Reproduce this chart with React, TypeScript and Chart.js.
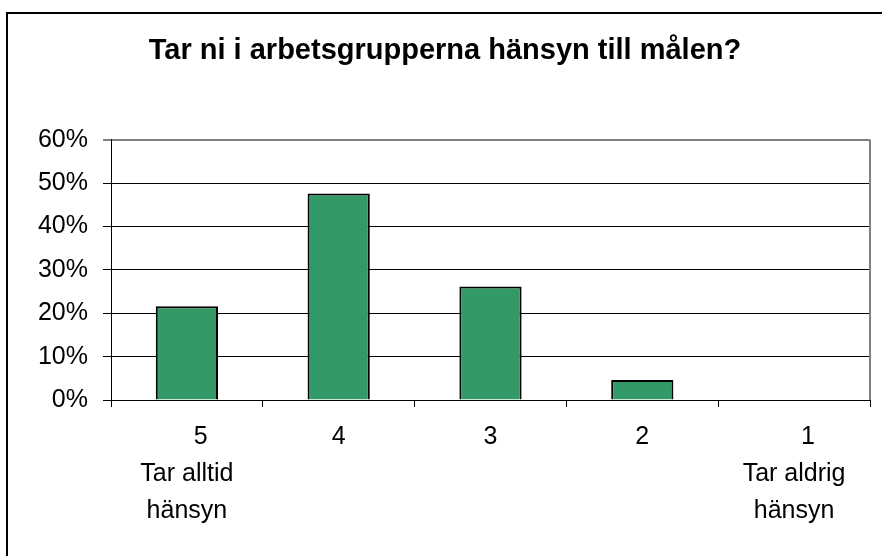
import React, { useEffect, useRef } from "react";
import { Chart, registerables } from "chart.js";

Chart.register(...registerables);

const TITLE = "Tar ni i arbetsgrupperna hänsyn till målen?";
const CATEGORIES: string[][] = [
  ["    5", "Tar alltid", "hänsyn"],
  ["4"],
  ["3"],
  ["2"],
  ["    1", "Tar aldrig", "hänsyn"],
];
const VALUES: number[] = [21.6, 47.6, 26.2, 4.6, 0];
const Y_MIN = 0;
const Y_MAX = 60;
const Y_STEP = 10;

const FONT = "'Liberation Sans', Arial, Helvetica, sans-serif";
const W = 882;
const H = 556;

const framePlugin = {
  id: "frame",
  beforeDraw(chart: any) {
    const ctx = chart.ctx;
    ctx.save();
    ctx.fillStyle = "#ffffff";
    ctx.fillRect(0, 0, chart.width, chart.height);
    ctx.strokeStyle = "#000000";
    ctx.lineWidth = 2;
    ctx.beginPath();
    ctx.moveTo(7, chart.height + 2);
    ctx.lineTo(7, 13);
    ctx.lineTo(chart.width + 2, 13);
    ctx.stroke();
    ctx.restore();
  },
  afterDraw(chart: any) {
    const { ctx, chartArea } = chart;
    ctx.save();
    ctx.strokeStyle = "#808080";
    ctx.lineWidth = 2;
    ctx.beginPath();
    ctx.moveTo(chartArea.right, chartArea.top);
    ctx.lineTo(chartArea.right, chartArea.bottom);
    ctx.stroke();
    ctx.restore();
  },
};

export default function App() {
  const ref = useRef<HTMLCanvasElement | null>(null);

  useEffect(() => {
    if (!ref.current) return;
    const chart = new Chart(ref.current, {
      type: "bar",
      data: {
        labels: CATEGORIES,
        datasets: [
          {
            data: VALUES,
            backgroundColor: "#339966",
            borderColor: "#000000",
            borderWidth: 2,
            borderSkipped: "bottom",
            categoryPercentage: 1,
            barPercentage: 0.41,
          },
        ],
      },
      options: {
        animation: false,
        responsive: false,
        devicePixelRatio: 1,
        layout: { padding: { left: 20, right: 12, top: 0, bottom: 0 } },
        plugins: {
          legend: { display: false },
          tooltip: { enabled: false },
          title: {
            display: true,
            text: TITLE,
            color: "#000000",
            font: { family: FONT, size: 29, weight: "bold", lineHeight: 1.2 },
            padding: { top: 34, bottom: 71 },
          },
        },
        scales: {
          x: {
            grid: {
              drawOnChartArea: false,
              drawTicks: true,
              tickLength: 7,
              color: "#000000",
              offset: true,
            },
            border: { display: true, color: "#000000", width: 1 },
            ticks: {
              color: "#000000",
              font: { family: FONT, size: 25, lineHeight: 37 / 25 },
              padding: 12,
              maxRotation: 0,
              minRotation: 0,
              autoSkip: false,
            },
            afterFit: (s: any) => {
              s.height = 156;
            },
          },
          y: {
            min: Y_MIN,
            max: Y_MAX,
            ticks: {
              stepSize: Y_STEP,
              callback: (v: any) => v + "%",
              color: "#000000",
              font: { family: FONT, size: 25 },
              padding: 15,
            },
            grid: {
              color: (c: any) => (c.tick && c.tick.value === Y_MAX ? "#808080" : "#000000"),
              lineWidth: (c: any) => (c.tick && c.tick.value === Y_MAX ? 2 : 1),
              tickColor: "#000000",
              tickWidth: 1,
              tickLength: 8,
            },
            border: { display: true, color: "#000000", width: 1 },
            afterFit: (s: any) => {
              s.width = 91;
            },
          },
        },
      },
      plugins: [framePlugin],
    });
    return () => chart.destroy();
  }, []);

  return (
    <div style={{ position: "fixed", left: 0, top: 0, width: W, height: H }}>
      <canvas ref={ref} width={W} height={H} style={{ width: W, height: H, display: "block" }} />
    </div>
  );
}
